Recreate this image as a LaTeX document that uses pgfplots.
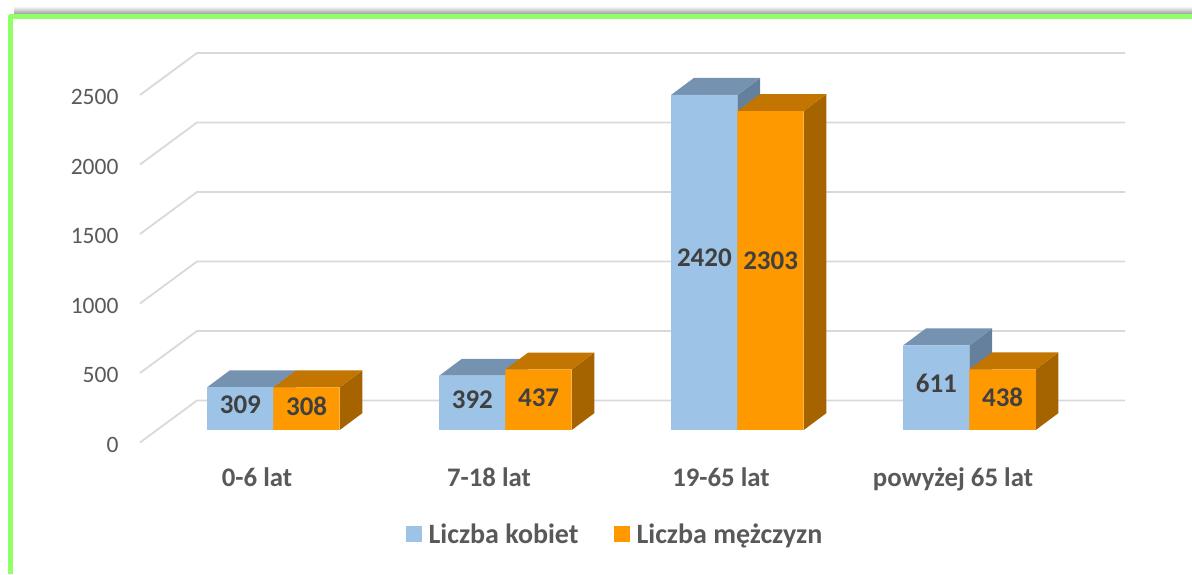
\documentclass[border=0pt]{standalone}
\usepackage{fontspec}
\setmainfont{Carlito}
\usepackage{pgfplots}
\pgfplotsset{compat=1.18}

\definecolor{frontblue}{HTML}{9DC3E6}
\definecolor{topblue}{HTML}{7592B1}
\definecolor{sideblue}{HTML}{64809C}
\definecolor{frontorange}{HTML}{FF9900}
\definecolor{toporange}{HTML}{C27500}
\definecolor{sideorange}{HTML}{A56400}
\definecolor{wallgrid}{HTML}{D9D9D9}
\definecolor{framegreen}{HTML}{90FF68}
\definecolor{ticktext}{HTML}{595959}
\definecolor{labeltext}{HTML}{404040}

\pgfplotsset{
  chartframe/.style={
    at={(140pt,131.5pt)}, anchor=south west,
    scale only axis, width=928pt, height=347.5pt,
    clip=false,
    axis line style={draw=none},
    major tick length=0pt,
    tick style={draw=none},
    /pgf/number format/assume math mode=true,
    /pgf/number format/1000 sep={},
  },
  wallline/.style={draw=wallgrid, line width=1.8pt, no markers, forget plot},
  face/.style={draw=none, no markers, forget plot},
  block/.style={
    ybar, bar width=66.25pt, draw=none,
    nodes near coords={\pgfmathprintnumber{\pgfplotspointmeta}},
    point meta=y,
    visualization depends on={y \as \rawy},
    every node near coord/.append style={
      anchor=center, text height=17pt, text depth=0pt, inner sep=0pt,
      font=\fontsize{27}{32}\selectfont\bfseries, text=labeltext},
  },
}

\begin{document}
\begin{tikzpicture}
\path[use as bounding box] (0,0) rectangle (1192pt,574pt);

% frame with its shadow
\shade[top color=white, bottom color=black!38, draw=none] (14pt,560pt) rectangle (1192pt,568pt);
\draw[framegreen, line width=5pt, line join=round] (10.5pt,0pt) -- (10.5pt,557.5pt) -- (1192pt,557.5pt);

% gridlines and tick labels, in the front plane
\begin{axis}[
    chartframe,
    xmin=-0.5043, xmax=3.4957,
    ymin=0, ymax=2500,
    xtick={0,1,2,3},
    xticklabels={0-6 lat, 7-18 lat, 19-65 lat, powyżej 65 lat},
    ytick={0,500,1000,1500,2000,2500},
    yticklabel style={font=\fontsize{23.5}{28}\selectfont, text=ticktext, xshift=-18pt, yshift=-2pt},
    xticklabel style={font=\fontsize{26.8}{32}\selectfont\bfseries, text=ticktext,
      anchor=center, text height=18pt, text depth=5pt, yshift=-37pt},
]
\addplot[wallline] coordinates {(-0.5043,0) (-0.2586,302.2) (3.7414,302.2)};
\addplot[wallline] coordinates {(-0.5043,500) (-0.2586,802.2) (3.7414,802.2)};
\addplot[wallline] coordinates {(-0.5043,1000) (-0.2586,1302.2) (3.7414,1302.2)};
\addplot[wallline] coordinates {(-0.5043,1500) (-0.2586,1802.2) (3.7414,1802.2)};
\addplot[wallline] coordinates {(-0.5043,2000) (-0.2586,2302.2) (3.7414,2302.2)};
\addplot[wallline] coordinates {(-0.5043,2500) (-0.2586,2802.2) (3.7414,2802.2)};
\end{axis}

% bars, in their own plane a little behind the front one
\begin{axis}[
    chartframe,
    xmin=-0.5754, xmax=3.4246,
    ymin=-90.3, ymax=2418.7,
    xtick=\empty, ytick=\empty,
    legend style={at={(475pt,-91.5pt)}, anchor=center, draw=none, fill=none,
      legend columns=2, font=\fontsize{28}{32}\selectfont\bfseries, text=ticktext,
      /tikz/every even column/.append style={column sep=33pt},
      inner sep=0pt},
    legend image code/.code={\path (0pt,0pt) -- (21pt,0pt); \fill[#1] (0pt,-8pt) rectangle (16pt,8pt);},
]
% women: side and top faces
\addplot[face, fill=sideblue] coordinates {(0,0) (0,309) (0.0978,431.3) (0.0978,122.3)} -- cycle;
\addplot[face, fill=topblue] coordinates {(-0.2856,309) (0,309) (0.0978,431.3) (-0.1878,431.3)} -- cycle;
\addplot[face, fill=sideblue] coordinates {(1,0) (1,392) (1.0978,514.3) (1.0978,122.3)} -- cycle;
\addplot[face, fill=topblue] coordinates {(0.7144,392) (1,392) (1.0978,514.3) (0.8122,514.3)} -- cycle;
\addplot[face, fill=sideblue] coordinates {(2,0) (2,2420) (2.0978,2542.3) (2.0978,122.3)} -- cycle;
\addplot[face, fill=topblue] coordinates {(1.7144,2420) (2,2420) (2.0978,2542.3) (1.8122,2542.3)} -- cycle;
\addplot[face, fill=sideblue] coordinates {(3,0) (3,611) (3.0978,733.3) (3.0978,122.3)} -- cycle;
\addplot[face, fill=topblue] coordinates {(2.7144,611) (3,611) (3.0978,733.3) (2.8122,733.3)} -- cycle;
\addplot[block, bar shift=-33.125pt, fill=frontblue,
    every node near coord/.append style={xshift=-33.125pt, yshift={-0.0685*\rawy+3}}]
  coordinates {(0,309) (1,392) (2,2420) (3,611)};
\addlegendentry{Liczba kobiet}
% men: side and top faces
\addplot[face, fill=sideorange] coordinates {(0.2856,0) (0.2856,308) (0.3834,430.3) (0.3834,122.3)} -- cycle;
\addplot[face, fill=toporange] coordinates {(0,308) (0.2856,308) (0.3834,430.3) (0.0978,430.3)} -- cycle;
\addplot[face, fill=sideorange] coordinates {(1.2856,0) (1.2856,437) (1.3834,559.3) (1.3834,122.3)} -- cycle;
\addplot[face, fill=toporange] coordinates {(1,437) (1.2856,437) (1.3834,559.3) (1.0978,559.3)} -- cycle;
\addplot[face, fill=sideorange] coordinates {(2.2856,0) (2.2856,2303) (2.3834,2425.3) (2.3834,122.3)} -- cycle;
\addplot[face, fill=toporange] coordinates {(2,2303) (2.2856,2303) (2.3834,2425.3) (2.0978,2425.3)} -- cycle;
\addplot[face, fill=sideorange] coordinates {(3.2856,0) (3.2856,438) (3.3834,560.3) (3.3834,122.3)} -- cycle;
\addplot[face, fill=toporange] coordinates {(3,438) (3.2856,438) (3.3834,560.3) (3.0978,560.3)} -- cycle;
\addplot[block, bar shift=33.125pt, fill=frontorange,
    every node near coord/.append style={xshift=33.125pt, yshift={-0.0652*\rawy}}]
  coordinates {(0,308) (1,437) (2,2303) (3,438)};
\addlegendentry{Liczba mężczyzn}
\end{axis}
\end{tikzpicture}
\end{document}
